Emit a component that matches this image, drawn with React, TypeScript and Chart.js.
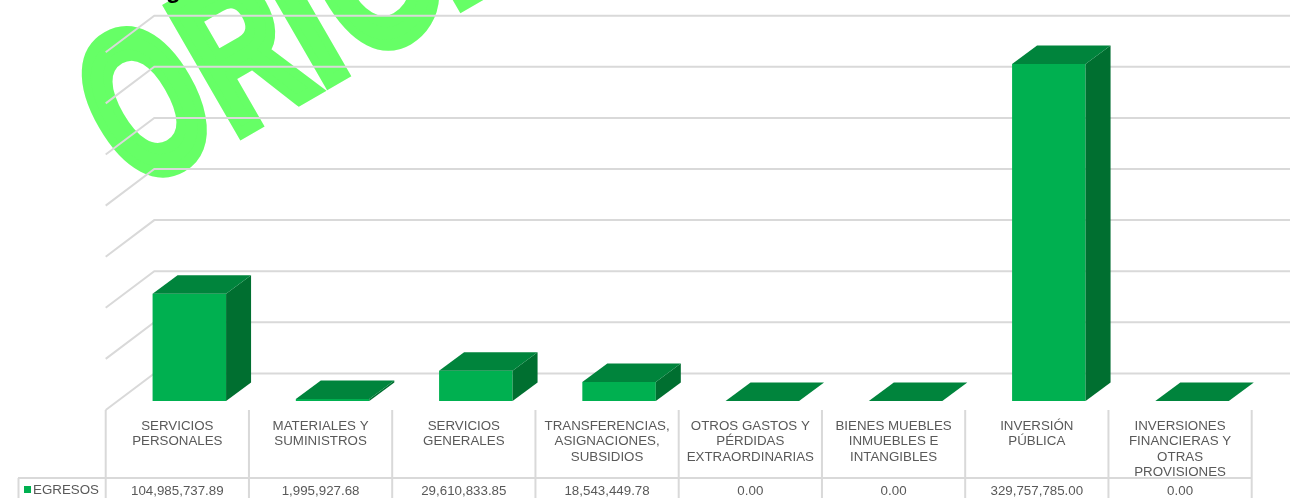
import React, { useEffect, useRef } from "react";
import { Chart, registerables } from "chart.js";

Chart.register(...registerables);

const categories: string[][] = [
  ["SERVICIOS", "PERSONALES"],
  ["MATERIALES Y", "SUMINISTROS"],
  ["SERVICIOS", "GENERALES"],
  ["TRANSFERENCIAS,", "ASIGNACIONES,", "SUBSIDIOS"],
  ["OTROS GASTOS Y", "PÉRDIDAS", "EXTRAORDINARIAS"],
  ["BIENES MUEBLES", "INMUEBLES E", "INTANGIBLES"],
  ["INVERSIÓN", "PÚBLICA"],
  ["INVERSIONES", "FINANCIERAS Y", "OTRAS", "PROVISIONES"],
];
const egresos: number[] = [104985737.89, 1995927.68, 29610833.85, 18543449.78, 0, 0, 329757785.0, 0];
const seriesName = "EGRESOS";
const watermarkText = "ORIGINAL";
const watermarkNudge: number[][] = [[-4, -3], [0, 0], [0, 0], [8, 0], [7, 0], [7, 0], [7, 0], [7, 0]];
const titleFragment = "g";

const FONT = '"Liberation Sans", Arial, sans-serif';
const GRID = "#d9d9d9";
const TEXT = "#595959";
const FRONT = "#00b050";
const TOP = "#00843c";
const SIDE = "#006f30";

const threeD = {
  id: "threeD",
  beforeDraw(chart: any) {
    const ctx = chart.ctx;
    ctx.save();
    ctx.fillStyle = "#ffffff";
    ctx.fillRect(0, 0, chart.width, chart.height);
    // watermark
    ctx.save();
    ctx.translate(139, 192);
    ctx.rotate((-30 * Math.PI) / 180);
    ctx.scale(0.662, 1);
    ctx.font = `bold 210px ${FONT}`;
    ctx.textBaseline = "alphabetic";
    ctx.textAlign = "left";
    ctx.fillStyle = "#66ff66";
    ctx.strokeStyle = "#66ff66";
    ctx.lineWidth = 12;
    ctx.lineJoin = "miter";
    watermarkText.split("").forEach((ch, i) => {
      const wx = ctx.measureText(watermarkText.slice(0, i)).width + watermarkNudge[i][0] / 0.662;
      const wy = watermarkNudge[i][1];
      ctx.fillText(ch, wx, wy);
      ctx.strokeText(ch, wx, wy);
    });
    ctx.restore();
    // cropped title
    ctx.fillStyle = "#000000";
    ctx.font = `bold 24px ${FONT}`;
    ctx.textBaseline = "alphabetic";
    ctx.fillText(titleFragment, 166, -2);
    ctx.restore();
  },
  beforeDatasetsDraw(chart: any) {
    const ctx = chart.ctx;
    const y = chart.scales.y;
    const x = chart.scales.x;
    const frontX = x.left - 12;
    const colW = x.width / categories.length;
    ctx.save();
    ctx.strokeStyle = GRID;
    ctx.lineWidth = 2;
    ctx.lineJoin = "miter";
    for (const t of y.ticks) {
      const py = y.getPixelForValue(t.value);
      ctx.beginPath();
      ctx.moveTo(frontX, py + 9);
      ctx.lineTo(frontX + 48.6, py - 27.6);
      ctx.lineTo(chart.width + 2, py - 27.6);
      ctx.stroke();
    }
    // table
    const floor = y.getPixelForValue(0) + 9;
    const rowY = 478;
    ctx.beginPath();
    ctx.moveTo(18, rowY);
    ctx.lineTo(frontX + colW * categories.length + 1, rowY);
    ctx.moveTo(18.5, rowY);
    ctx.lineTo(18.5, chart.height + 2);
    for (let i = 0; i <= categories.length; i++) {
      const vx = frontX + colW * i;
      ctx.moveTo(vx, floor);
      ctx.lineTo(vx, chart.height + 2);
    }
    ctx.stroke();

    ctx.fillStyle = TEXT;
    ctx.font = `13.33px ${FONT}`;
    ctx.textAlign = "center";
    ctx.textBaseline = "middle";
    categories.forEach((lines, i) => {
      const cx = x.getPixelForValue(i) - 12;
      lines.forEach((line, j) => ctx.fillText(line, cx, 426.5 + j * 15.2));
      const v = egresos[i].toLocaleString("en-US", { minimumFractionDigits: 2, maximumFractionDigits: 2 });
      ctx.fillText(v, cx, 491.5);
    });
    ctx.textAlign = "left";
    ctx.fillText(seriesName, 33, 490.5);
    ctx.fillStyle = FRONT;
    ctx.fillRect(24, 486, 7, 7);
    ctx.restore();
  },
  afterDatasetsDraw(chart: any) {
    const ctx = chart.ctx;
    const dx = 25;
    const dy = 18.5;
    ctx.save();
    chart.getDatasetMeta(0).data.forEach((bar: any) => {
      const l = bar.x - bar.width / 2;
      const r = bar.x + bar.width / 2;
      const t = bar.y;
      const b = bar.base;
      ctx.fillStyle = SIDE;
      ctx.beginPath();
      ctx.moveTo(r, t);
      ctx.lineTo(r + dx, t - dy);
      ctx.lineTo(r + dx, b - dy);
      ctx.lineTo(r, b);
      ctx.closePath();
      ctx.fill();
      ctx.fillStyle = TOP;
      ctx.beginPath();
      ctx.moveTo(l, t);
      ctx.lineTo(l + dx, t - dy);
      ctx.lineTo(r + dx, t - dy);
      ctx.lineTo(r, t);
      ctx.closePath();
      ctx.fill();
    });
    ctx.restore();
  },
};

export default function App() {
  const ref = useRef<HTMLCanvasElement | null>(null);
  useEffect(() => {
    if (!ref.current) return;
    const chart = new Chart(ref.current, {
      type: "bar",
      data: {
        labels: categories.map((c) => c.join(" ")),
        datasets: [
          {
            label: seriesName,
            data: egresos,
            backgroundColor: FRONT,
            borderWidth: 0,
            categoryPercentage: 1,
            barPercentage: 0.513,
          },
        ],
      },
      options: {
        animation: false,
        responsive: false,
        devicePixelRatio: 1,
        layout: { padding: { left: 117.7, right: 26.3, top: 43.3, bottom: 97 } },
        plugins: { legend: { display: false }, tooltip: { enabled: false }, title: { display: false } },
        scales: {
          x: { display: false },
          y: { display: false, min: 0, max: 350000000, ticks: { stepSize: 50000000 } },
        },
      },
      plugins: [threeD],
    });
    return () => chart.destroy();
  }, []);
  return (
    <canvas
      ref={ref}
      width={1290}
      height={498}
      style={{ position: "fixed", left: 0, top: 0, width: 1290, height: 498, display: "block" }}
    />
  );
}
